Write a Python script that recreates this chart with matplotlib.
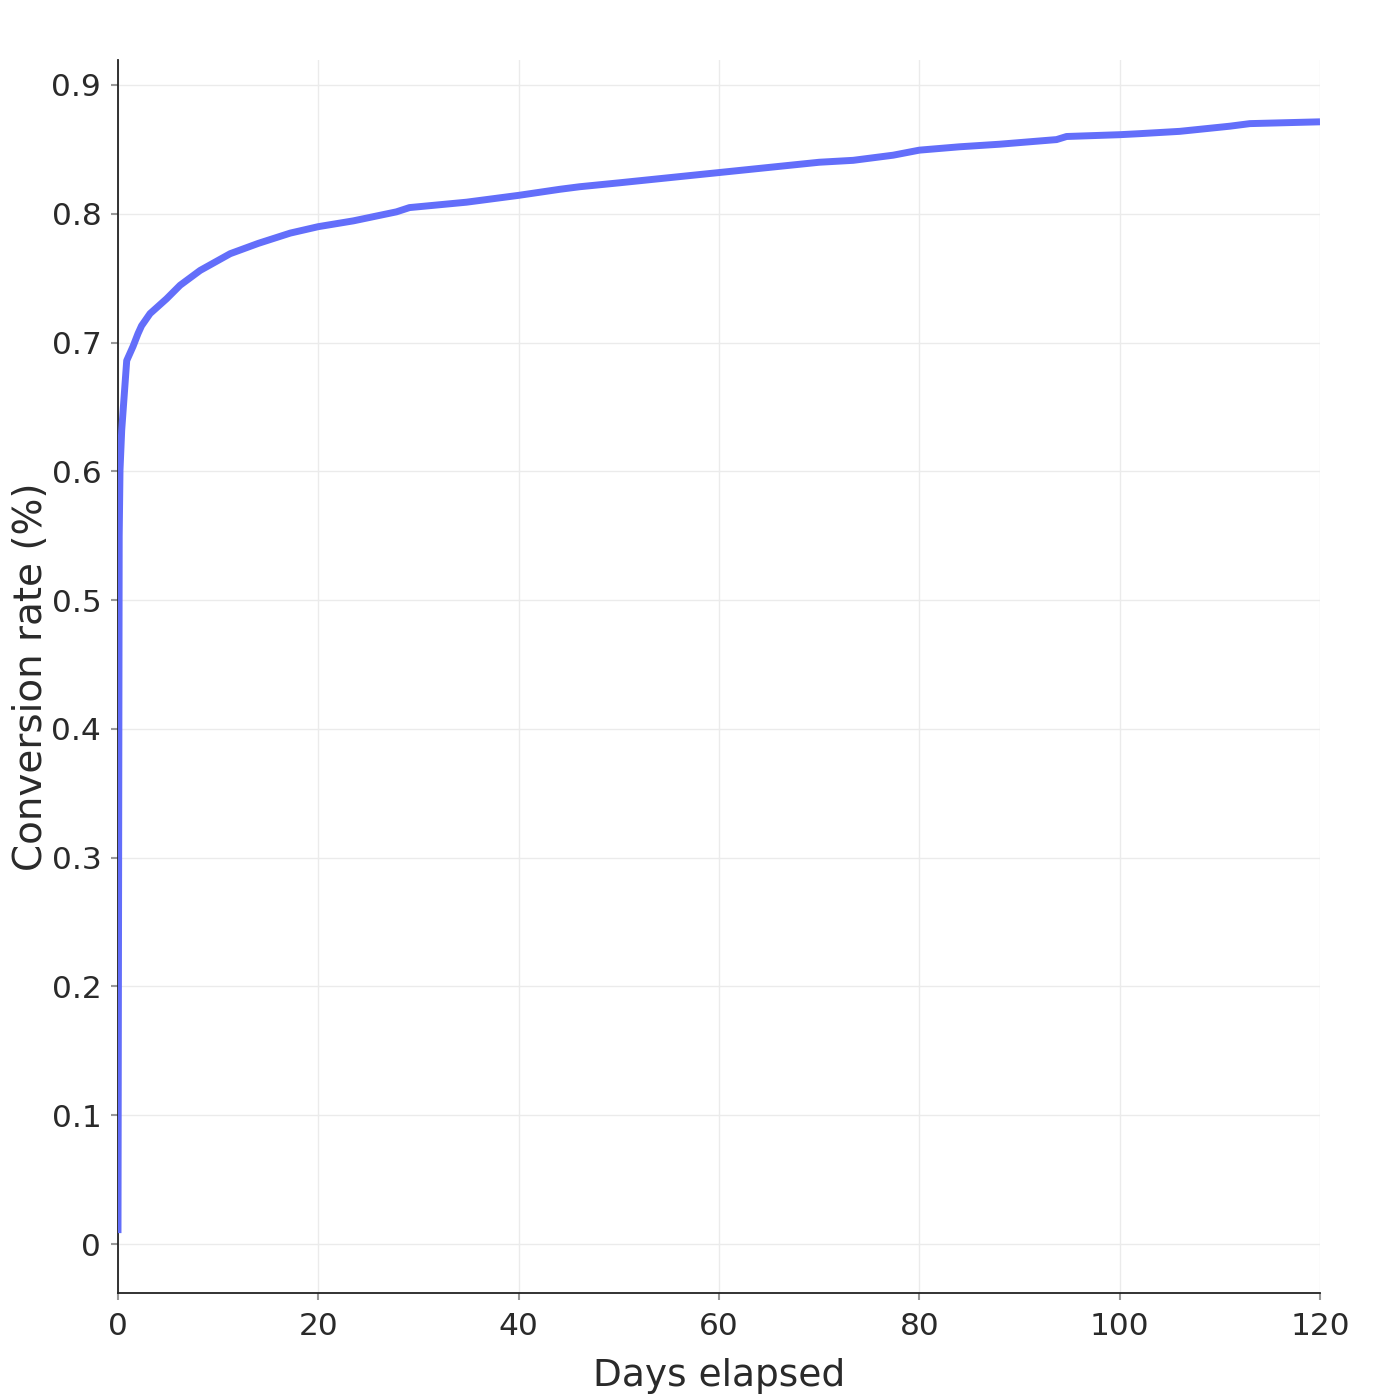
import matplotlib
matplotlib.use("Agg")
import matplotlib.pyplot as plt
import matplotlib.ticker as mticker

# cumulative conversion curve
days = [0, 0.12, 0.2, 0.37, 0.87, 1.5, 2.0, 2.35, 3.2, 4.85, 6.2, 8.2, 11.2, 14,
        17.2, 20, 23.5, 27.8, 29.1, 34.8, 40, 44.1, 46.1, 50, 60, 70, 73.4,
        77.4, 80, 84, 88, 93.7, 94.7, 100, 102, 106, 111, 113, 120]
conversion = [0.0085, 0.55, 0.601, 0.632, 0.686, 0.697, 0.707, 0.713, 0.7225,
              0.734, 0.7445, 0.756, 0.769, 0.777, 0.785, 0.790, 0.7945, 0.8015,
              0.8048, 0.809, 0.8143, 0.819, 0.821, 0.824, 0.832, 0.840, 0.8415,
              0.8455, 0.8494, 0.852, 0.854, 0.8576, 0.860, 0.8614, 0.8622,
              0.864, 0.868, 0.870, 0.8714]

x_ticks = [0, 20, 40, 60, 80, 100, 120]
y_ticks = [0, 0.1, 0.2, 0.3, 0.4, 0.5, 0.6, 0.7, 0.8, 0.9]

text_color = "#2a2a2a"
plt.rcParams['font.family'] = ['DejaVu Sans']

fig = plt.figure(figsize=(14, 14), dpi=100)
ax = fig.add_axes([118 / 1400, 1 - 1293 / 1400, 1202 / 1400, 1233 / 1400])

ax.plot(days, conversion, color="#636EFA", linewidth=5.0,
        solid_joinstyle="round", solid_capstyle="butt", zorder=3)

ax.set_xlim(0, 120)
ax.set_ylim(-0.038, 0.9194)
ax.set_xticks(x_ticks)
ax.set_yticks(y_ticks)
ax.yaxis.set_major_formatter(mticker.FuncFormatter(lambda v, _: f"{v:g}"))

ax.grid(True, color="#ebebeb", linewidth=1.0, zorder=0)
ax.set_axisbelow(True)

for side in ("top", "right"):
    ax.spines[side].set_visible(False)
for side in ("left", "bottom"):
    ax.spines[side].set_color("#222222")
    ax.spines[side].set_linewidth(1.3)

ax.tick_params(axis="both", direction="out", length=5, width=1.5,
               color="#999999", labelsize=22.5, labelcolor=text_color)
ax.tick_params(axis="x", pad=9)
ax.tick_params(axis="y", pad=7)

ax.set_xlabel("Days elapsed", fontsize=27, color=text_color, labelpad=12)
ax.set_ylabel("Conversion rate (%)", fontsize=28, color=text_color, labelpad=1)

fig.savefig("out.png", dpi=100, facecolor="white")
plt.close(fig)
